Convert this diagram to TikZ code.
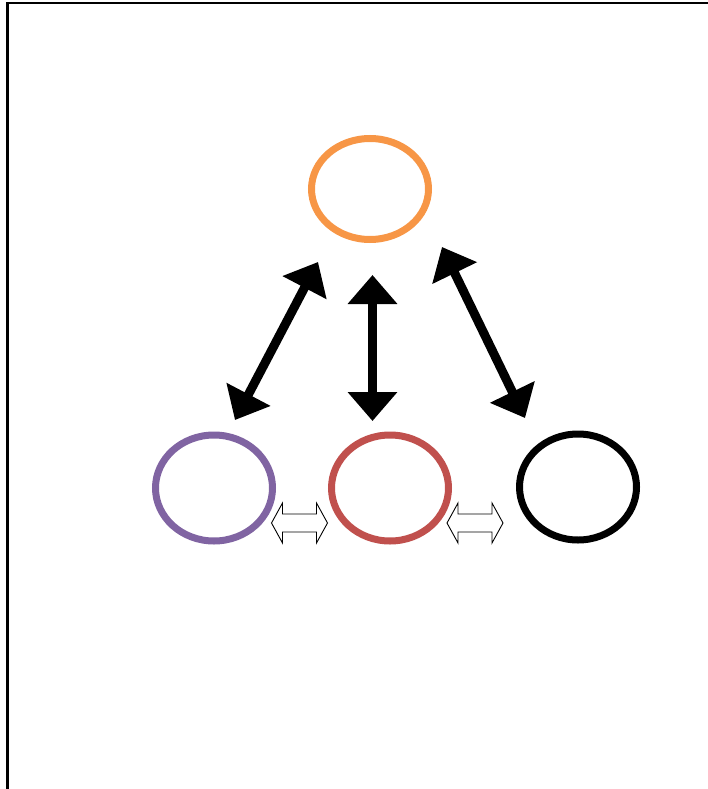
\documentclass[tikz,border=0pt]{standalone}
\usepackage{tikz}
\usetikzlibrary{arrows.meta,calc,shapes.geometric}
\definecolor{ringorange}{HTML}{F79646}
\definecolor{ringpurple}{HTML}{8064A2}
\definecolor{ringred}{HTML}{C0504D}
\tikzset{
	ring/.style={ellipse,draw,line width=7pt,minimum width=117pt,minimum height=106pt,inner sep=0pt,outer sep=0pt},
	bigarrow/.style={line width=9pt,{Triangle[length=29pt,width=48pt]}-{Triangle[length=29pt,width=48pt]}},
	hollowarrow/.style={draw=black,fill=white,line width=0.9pt,line join=miter}
}
\begin{document}
\begin{tikzpicture}[x=1pt,y=-1pt]
			\useasboundingbox (0,0) rectangle (708,789);
			% frame
			\draw[line width=2.5pt] (7.5,789) |- (708,3);
			% rings
			\node[ring,draw=ringorange,minimum height=101pt] (top) at (370,189) {};
			\node[ring,draw=ringpurple] (left) at (214,488) {};
			\node[ring,draw=ringred] (mid) at (390,488) {};
			\node[ring,draw=black] (right) at (578,487) {};
			% arrows to the top ring
			\draw[bigarrow] ($(left)+(21,-68)$) -- ($(top)+(-52,73)$);
			\draw[bigarrow] ($(mid)+(-17.5,-67)$) -- ($(top)+(2.5,86)$);
			\draw[bigarrow] ($(right)+(-53,-69)$) -- ($(top)+(72,58)$);
			% small arrows between the rings
			\coordinate (lm) at (299.5,523);
			\coordinate (mr) at (475,523);
			\foreach \c in {lm,mr} {
				\draw[hollowarrow] ($(\c)+(-28,0)$) -- ++(11,-20) -- ++(0,11) -- ++(34,0) -- ++(0,-11)
					-- ++(11,20) -- ++(-11,20) -- ++(0,-11) -- ++(-34,0) -- ++(0,11) -- cycle;
			}
		\end{tikzpicture}
\end{document}
